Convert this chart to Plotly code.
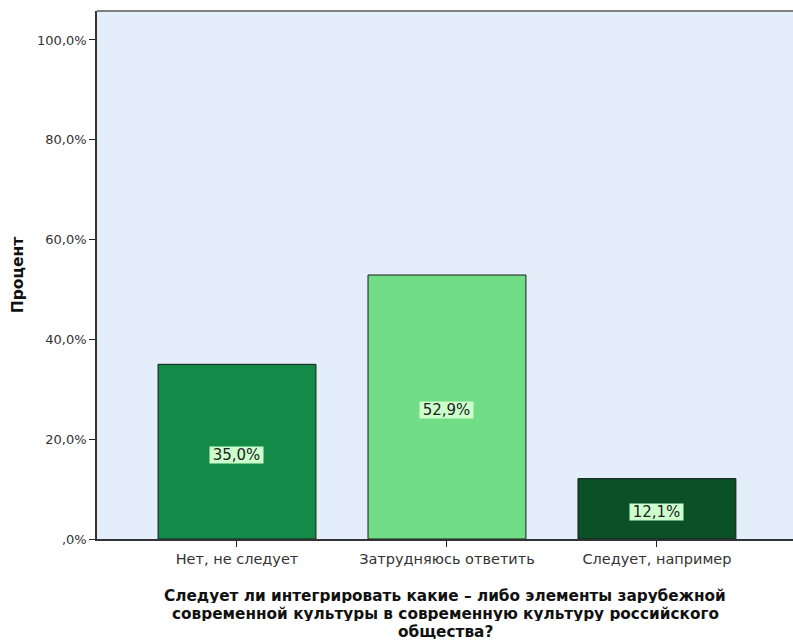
import plotly.graph_objects as go

categories = ["Нет, не следует", "Затрудняюсь ответить", "Следует, например"]
values = [35.0, 52.9, 12.1]
bar_colors = ["#138a48", "#71dd87", "#0b5128"]
label_texts = ["35,0%", "52,9%", "12,1%"]
ytick_vals = [0, 20, 40, 60, 80, 100]
ytick_text = [",0%", "20,0%", "40,0%", "60,0%", "80,0%", "100,0%"]
x_title_lines = ["Следует ли интегрировать какие – либо элементы зарубежной",
                 "современной культуры в современную культуру российского",
                 "общества?"]
y_title = "Процент"

FONT = "DejaVu Sans, Verdana, sans-serif"
PLOT_TOP, PLOT_BOTTOM = 11, 539
PLOT_H = PLOT_BOTTOM - PLOT_TOP

fig = go.Figure()
fig.add_trace(go.Bar(
    x=list(range(len(categories))),
    y=values,
    width=0.752,
    marker=dict(color=bar_colors, line=dict(color="#1a1a1a", width=1)),
    hoverinfo="skip",
))

for i, (v, t) in enumerate(zip(values, label_texts)):
    fig.add_annotation(
        x=i, y=v / 2, xref="x", yref="y", text=t, showarrow=False,
        bgcolor="#ccffcc", font=dict(family=FONT, size=15, color="#222222"),
        borderpad=0, width=53, height=16, yshift=-3,
    )

title_centers = [595, 613, 631]
for line, yc in zip(x_title_lines, title_centers):
    fig.add_annotation(
        x=0.5, y=-(yc - PLOT_BOTTOM) / PLOT_H, xref="paper", yref="paper",
        text=line, showarrow=False, xanchor="center", yanchor="middle",
        height=15, borderpad=0,
        font=dict(family=FONT, size=15.3, color="#111111", weight="bold"),
    )

fig.update_layout(
    width=793, height=641,
    margin=dict(l=97, r=0, t=PLOT_TOP, b=641 - PLOT_BOTTOM),
    paper_bgcolor="white",
    plot_bgcolor="#e3eefa",
    showlegend=False,
    font=dict(family=FONT, size=14, color="#222222"),
    xaxis=dict(
        range=[-0.6667, 2.648],
        tickvals=list(range(len(categories))),
        ticktext=categories,
        ticks="outside", ticklen=6, tickcolor="#222222",
        showline=True, linecolor="#333333", linewidth=1.5,
        showgrid=False, zeroline=False,
        tickfont=dict(family=FONT, size=14.5, color="#333333"),
    ),
    yaxis=dict(
        range=[0, 105.8],
        tickvals=ytick_vals, ticktext=ytick_text,
        ticks="outside", ticklen=6, tickcolor="#222222",
        showline=True, linecolor="#333333", linewidth=1.5,
        showgrid=False, zeroline=False,
        tickfont=dict(family=FONT, size=13, color="#333333"),
        title=dict(text=y_title, standoff=10,
                   font=dict(family=FONT, size=15.5, color="#111111", weight="bold")),
    ),
    shapes=[dict(type="line", xref="paper", yref="paper", x0=0, x1=1, y0=1, y1=1,
                 line=dict(color="#808080", width=2))],
)

fig.write_html("out.html")
